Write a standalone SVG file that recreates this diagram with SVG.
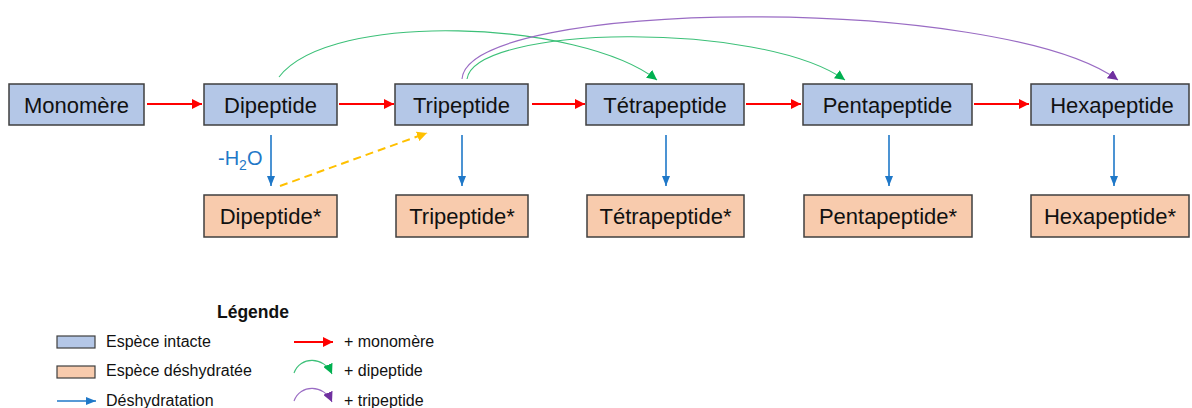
<svg xmlns="http://www.w3.org/2000/svg" width="1192" height="408" viewBox="0 0 1192 408">
<defs>
<style>
.intact{fill:#b4c7e7;stroke:#3f3f3f;stroke-width:1.5}
.dehyd{fill:#f8cbad;stroke:#3f3f3f;stroke-width:1.5}
.lbl{font-family:"Liberation Sans",Arial,sans-serif;font-size:22px;fill:#111;text-anchor:middle}
.leg{font-family:"Liberation Sans",Arial,sans-serif;font-size:16px;fill:#111}
.red{stroke:#ff0000;stroke-width:2;fill:none;marker-end:url(#mRed)}
.blue{stroke:#1f78c8;stroke-width:1.6;fill:none;marker-end:url(#mBlue)}
.green{stroke:#3cc078;stroke-width:1.1;fill:none;marker-end:url(#mGreen)}
.purple{stroke:#9a6cc4;stroke-width:1.1;fill:none;marker-end:url(#mPurple)}
.orange{stroke:#ffc000;stroke-width:2;fill:none;stroke-dasharray:8 5;marker-end:url(#mOrange)}
</style>
<marker id="mRed" markerUnits="userSpaceOnUse" markerWidth="12" markerHeight="10" refX="10" refY="5" orient="auto"><path d="M0,0 L10,5 L0,10 z" fill="#ff0000"/></marker>
<marker id="mBlue" markerUnits="userSpaceOnUse" markerWidth="12" markerHeight="10" refX="10" refY="5" orient="auto"><path d="M0,1 L10,5 L0,9 z" fill="#1f78c8"/></marker>
<marker id="mGreen" markerUnits="userSpaceOnUse" markerWidth="12" markerHeight="10" refX="10" refY="5" orient="auto"><path d="M0,0 L10,5 L0,10 z" fill="#00b050"/></marker>
<marker id="mPurple" markerUnits="userSpaceOnUse" markerWidth="12" markerHeight="10" refX="10" refY="5" orient="auto"><path d="M0,0 L10,5 L0,10 z" fill="#7030a0"/></marker>
<marker id="mOrange" markerUnits="userSpaceOnUse" markerWidth="12" markerHeight="10" refX="10" refY="5" orient="auto"><path d="M0,0 L10,5 L0,10 z" fill="#ffc000"/></marker>
</defs>
<rect width="1192" height="408" fill="#ffffff"/>

<g id="connectors">
<line class="red" x1="147" y1="104" x2="202" y2="104"/>
<line class="red" x1="339" y1="104" x2="394" y2="104"/>
<line class="red" x1="532" y1="104" x2="585" y2="104"/>
<line class="red" x1="746" y1="104" x2="801" y2="104"/>
<line class="red" x1="974" y1="104" x2="1029" y2="104"/>
<line class="blue" x1="271" y1="135" x2="271" y2="186"/>
<line class="blue" x1="462" y1="135" x2="462" y2="186"/>
<line class="blue" x1="666" y1="135" x2="666" y2="186"/>
<line class="blue" x1="889" y1="135" x2="889" y2="186"/>
<line class="blue" x1="1114" y1="135" x2="1114" y2="186"/>
<line class="orange" x1="280" y1="186" x2="427" y2="133"/>
<path class="green" d="M279,77 C330,10 580,20 657,80"/>
<path class="purple" d="M462,79 C468,-2 1000,-6 1118,80"/>
<path class="green" d="M467,79 C475,25 760,20 845,80"/>
<text x="218" y="165" font-family="Liberation Sans, Arial, sans-serif" font-size="20" fill="#1f78c8">-H<tspan font-size="14" dy="5">2</tspan><tspan dy="-5">O</tspan></text>
</g>

<g id="monomere"><rect class="intact" x="9" y="84" width="135" height="41"/><text class="lbl" x="76.5" y="112.5">Monomère</text></g>
<g id="dipeptide"><rect class="intact" x="204" y="84" width="133" height="41"/><text class="lbl" x="270.5" y="112.5">Dipeptide</text></g>
<g id="tripeptide"><rect class="intact" x="395" y="84" width="133" height="41"/><text class="lbl" x="461.5" y="112.5">Tripeptide</text></g>
<g id="tetrapeptide"><rect class="intact" x="586" y="84" width="158" height="41"/><text class="lbl" x="665" y="112.5">Tétrapeptide</text></g>
<g id="pentapeptide"><rect class="intact" x="803" y="84" width="169" height="41"/><text class="lbl" x="887.5" y="112.5">Pentapeptide</text></g>
<g id="hexapeptide"><rect class="intact" x="1031" y="84" width="158" height="41"/><text class="lbl" x="1112" y="112.5">Hexapeptide</text></g>

<g id="dipeptide-d"><rect class="dehyd" x="204" y="195" width="133" height="42"/><text class="lbl" x="270.5" y="224">Dipeptide*</text></g>
<g id="tripeptide-d"><rect class="dehyd" x="396" y="195" width="132" height="42"/><text class="lbl" x="462" y="224">Tripeptide*</text></g>
<g id="tetrapeptide-d"><rect class="dehyd" x="587" y="195" width="157" height="42"/><text class="lbl" x="665.5" y="224">Tétrapeptide*</text></g>
<g id="pentapeptide-d"><rect class="dehyd" x="804" y="195" width="168" height="42"/><text class="lbl" x="888" y="224">Pentapeptide*</text></g>
<g id="hexapeptide-d"><rect class="dehyd" x="1031" y="195" width="158" height="42"/><text class="lbl" x="1110" y="224">Hexapeptide*</text></g>

<g id="legend">
<text x="217" y="318" font-family="Liberation Sans, Arial, sans-serif" font-size="17.5" font-weight="bold" fill="#111">Légende</text>
<rect class="intact" x="57" y="336" width="38" height="12" style="stroke-width:1.2"/>
<text class="leg" x="106" y="347">Espèce intacte</text>
<rect class="dehyd" x="57" y="366" width="38" height="12" style="stroke-width:1.2"/>
<text class="leg" x="106" y="376">Espèce déshydratée</text>
<line class="blue" x1="57" y1="401" x2="96" y2="401"/>
<text class="leg" x="106" y="406">Déshydratation</text>
<line class="red" x1="294" y1="342" x2="333" y2="342"/>
<text class="leg" x="344" y="347">+ monomère</text>
<path class="green" d="M294,373 C300,356 324,356 332,374"/>
<text class="leg" x="344" y="376">+ dipeptide</text>
<path class="purple" d="M294,401 C300,384 324,384 332,402"/>
<text class="leg" x="344" y="406">+ tripeptide</text>
</g>
</svg>
